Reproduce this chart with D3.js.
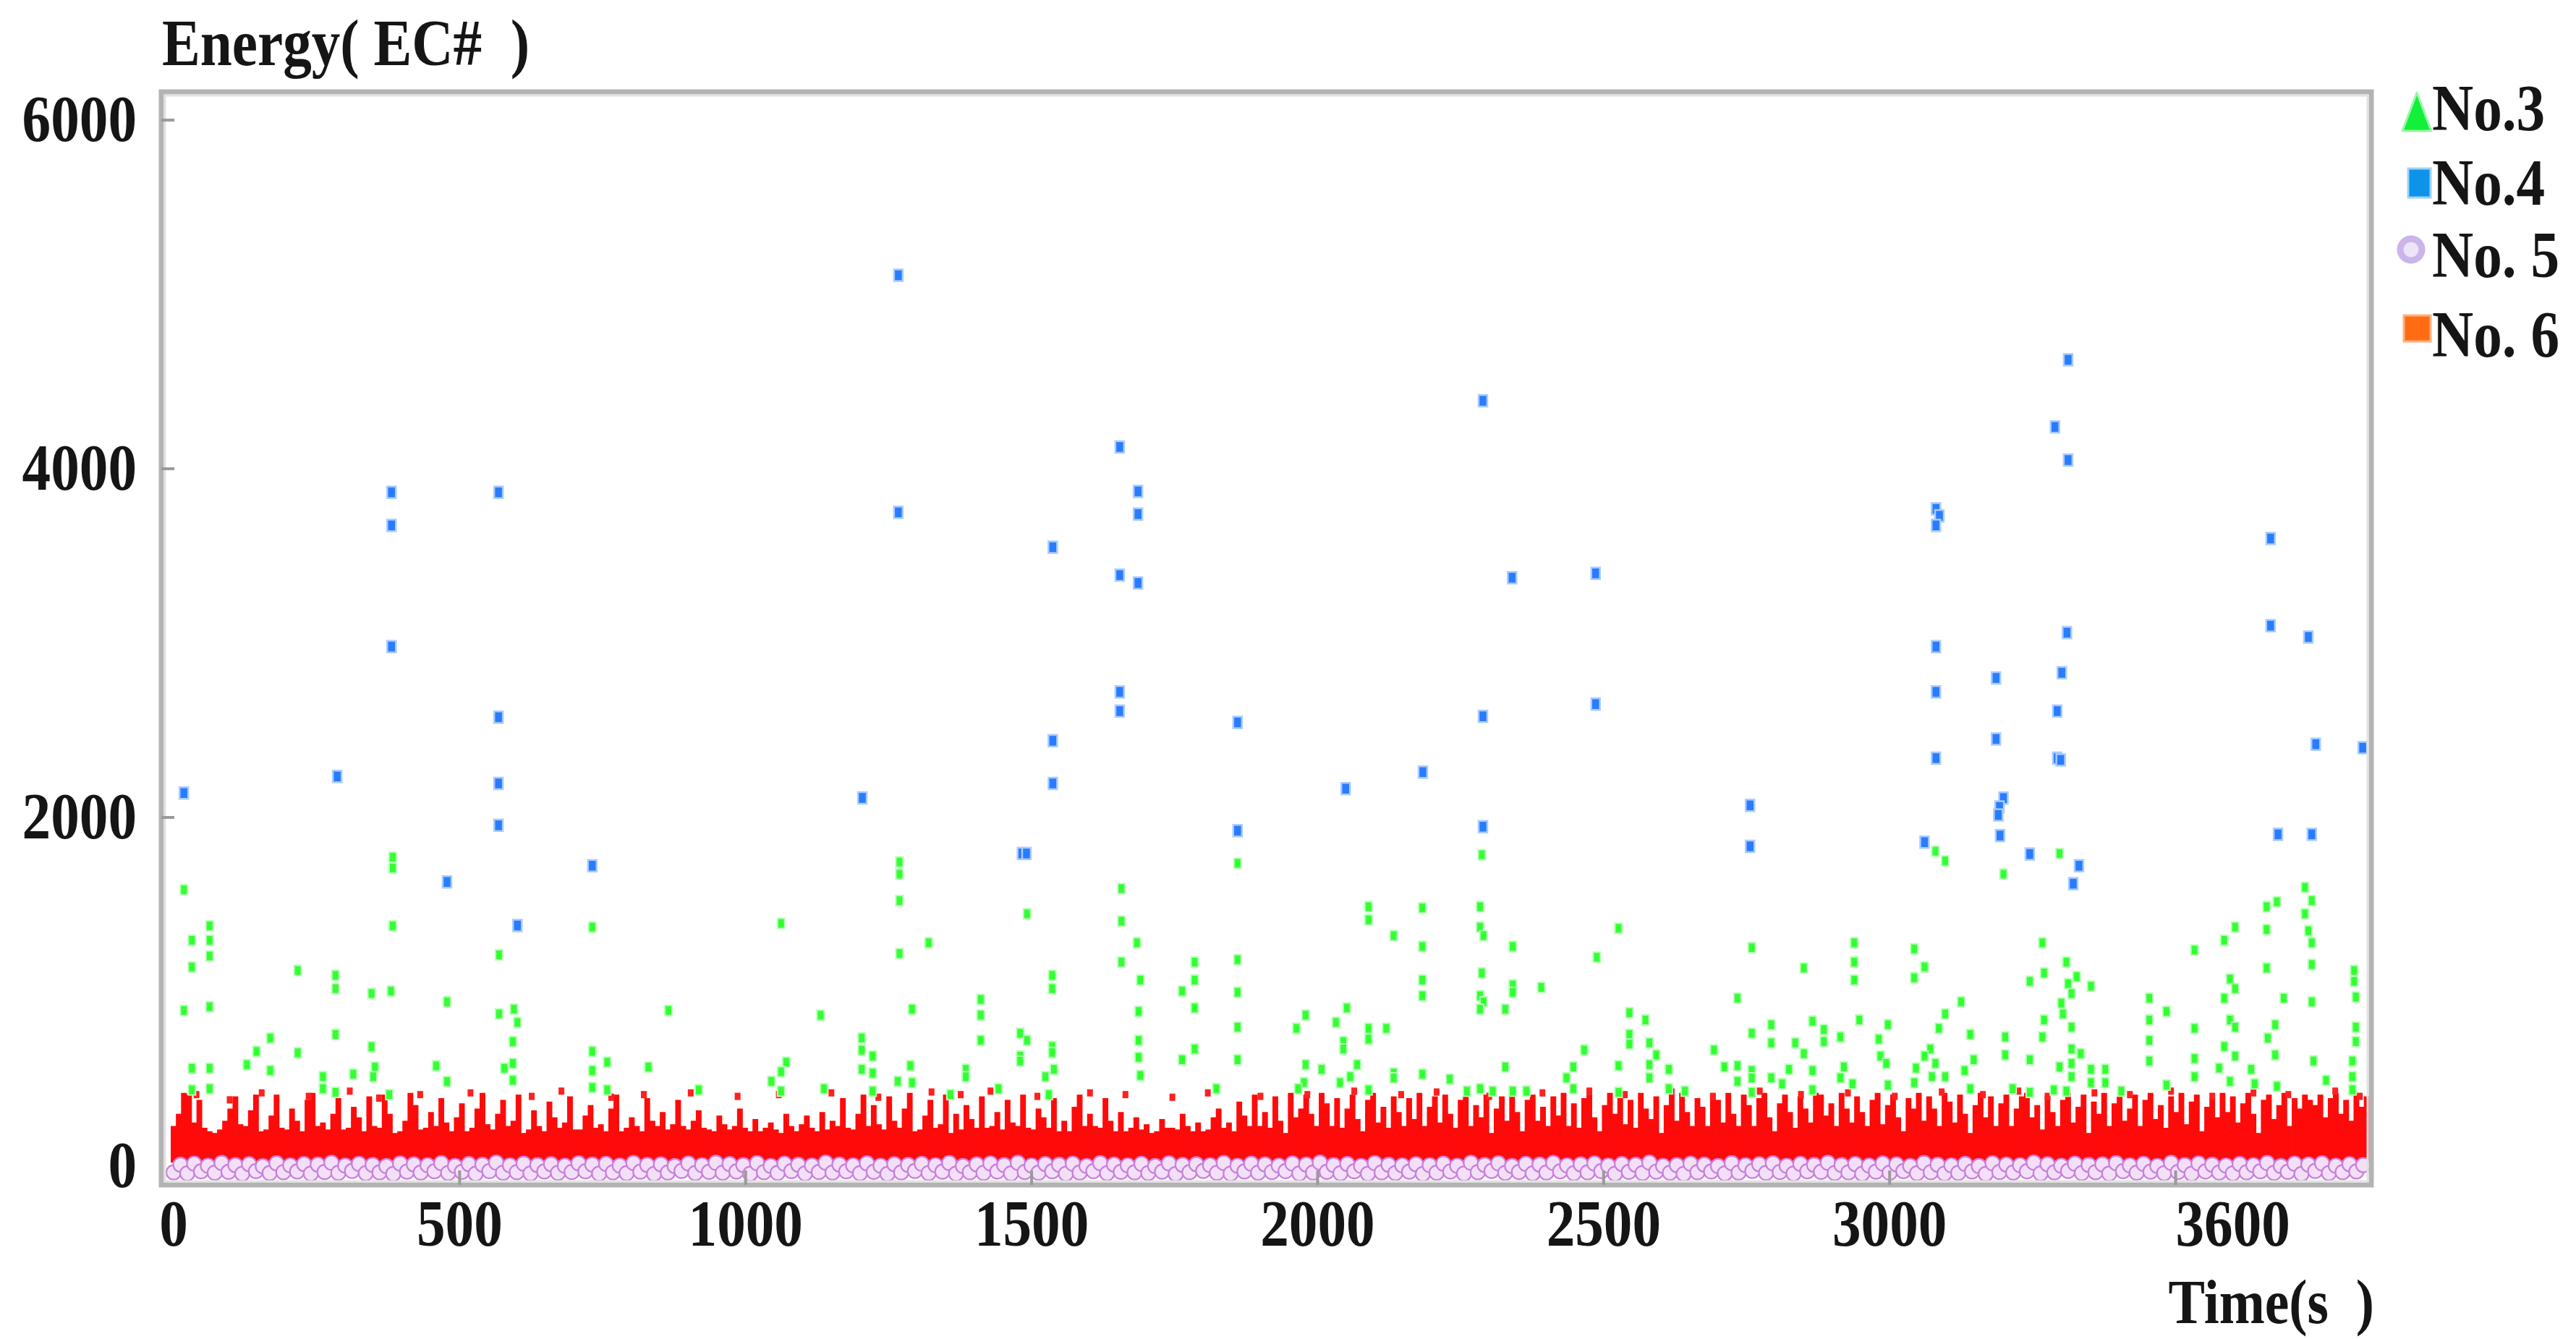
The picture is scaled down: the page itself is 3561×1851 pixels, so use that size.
<!DOCTYPE html>
<html><head><meta charset="utf-8">
<script src="https://cdn.jsdelivr.net/npm/d3@7"></script>
<style>
html,body{margin:0;padding:0;background:#fff;}
svg{display:block;}
text{font-family:"Liberation Serif","Times New Roman",serif;font-weight:bold;fill:#151515;white-space:pre;}
</style></head><body>
<svg id="chart" width="3561" height="1851"></svg>
<script>
// ---------- data ----------
const timeTickLabels = [0, 500, 1000, 1500, 2000, 2500, 3000, 3600];
const timeTickMarks = [500, 1000, 1500, 2000, 2500, 3000, 3500];
const energyTickLabels = [0, 2000, 4000, 6000];
const seriesNames = ["No.3", "No.4", "No. 5", "No. 6"];

// No.4 (blue) : [time s, energy]
const no4Points = [[18,2140],[286,2235],[381,3865],[381,3675],[381,2980],[478,1630],[568,3865],[568,2575],[568,2195],[568,1955],[601,1380],[732,1723],[1204,2112],[1267,5110],[1267,3750],[1483,1793],[1491,1793],[1537,3550],[1537,2440],[1537,2195],[1654,4125],[1654,3390],[1654,2720],[1654,2610],[1686,3870],[1686,3740],[1686,3345],[1860,2545],[1860,1924],[2049,2165],[2184,2260],[2289,4390],[2289,2580],[2289,1947],[2340,3375],[2486,3400],[2486,2650],[2756,2069],[2756,1834],[3061,1858],[3081,3770],[3087,3730],[3081,3675],[3081,2980],[3081,2720],[3081,2340],[3186,2800],[3186,2450],[3199,2111],[3192,2060],[3190,2014],[3193,1896],[3245,1790],[3289,4240],[3312,4625],[3312,4050],[3310,3060],[3301,2830],[3293,2610],[3293,2340],[3299,2330],[3331,1723],[3321,1620],[3666,3600],[3666,3100],[3679,1903],[3732,3035],[3745,2420],[3738,1903],[3827,2400]];

// No.3 (green) : [time s, energy]
const no3Points = [[18,1585],[63,1378],[32,1295],[63,1295],[63,1205],[32,1142],[18,893],[63,914],[32,561],[63,561],[63,444],[32,437],[169,734],[145,658],[128,582],[169,548],[217,1122],[217,650],[283,1094],[283,1018],[283,755],[261,513],[261,444],[283,423],[314,527],[346,990],[346,685],[352,568],[349,513],[380,1004],[383,1772],[383,1710],[383,1378],[377,410],[459,575],[478,942],[478,485],[569,1212],[569,873],[595,900],[601,824],[593,714],[593,589],[578,561],[593,492],[732,1371],[732,658],[758,596],[732,548],[732,451],[758,437],[830,568],[865,893],[918,437],
[1062,1392],[1071,596],[1062,541],[1045,486],[1062,430],[1131,866],[1137,444],[1203,735],[1203,665],[1222,631],[1203,555],[1222,534],[1222,430],[1269,1744],[1269,1675],[1269,1523],[1269,1219],[1291,900],[1288,576],[1266,486],[1291,479],[1320,1281],[1358,410],[1385,555],[1385,513],[1411,956],[1411,866],[1411,721],[1442,444],[1480,762],[1492,721],[1480,631],[1480,603],[1492,1447],[1536,1094],[1536,1018],[1536,686],[1536,652],[1539,555],[1524,513],[1530,410],[1657,1592],[1657,1405],[1657,1170],[1684,1281],[1690,1067],[1687,887],[1687,721],[1687,624],[1690,520],[1763,1004],[1785,1170],[1785,1067],[1785,907],[1785,672],[1763,610],[1823,444],[1860,1737],[1860,1184],[1860,997],[1860,797],[1860,610],
[2287,1786],[2284,1488],[2284,1371],[2290,1322],[2287,1108],[2284,977],[2290,942],[2284,900],[2284,444],[2089,1488],[2089,1412],[2133,1322],[2183,1481],[2183,1260],[2183,1067],[2183,977],[2183,527],[2051,907],[2032,824],[1979,866],[1963,790],[2045,714],[2045,672],[1979,582],[2007,555],[2069,582],[2057,513],[1976,479],[1966,444],[2039,479],[2089,790],[2089,728],[2089,437],[2120,790],[2133,534],[2133,506],[2231,499],[2261,430],[2306,430],[2341,1260],[2341,1039],[2341,997],[2328,900],[2328,569],[2341,430],[2365,430],[2391,1025],[2447,569],[2435,506],[2447,444],[2466,666],[2488,1198],[2526,1364],[2545,880],[2545,755],[2545,700],[2573,838],[2526,576],[2526,423],[2580,707],[2592,638],[2580,582],[2580,506],[2614,555],[2614,444],[2642,430],[2693,666],[2711,569],[2734,963],[2734,576],[2734,486],[2759,1253],[2759,762],[2759,548],[2759,506],[2759,423],[2793,811],[2793,707],[2793,506],[2812,472],[2824,555],[2835,707],[2850,1136],[2850,645],[2865,831],[2865,548],[2885,783],[2885,714],[2865,437],
[3080,1806],[3097,1751],[3199,1675],[3297,1793],[2938,1281],[2938,1170],[2938,1067],[3043,1246],[3061,1143],[3043,1080],[2947,838],[2914,741],[2920,569],[2914,506],[2935,472],[2997,811],[2981,728],[2984,631],[2994,589],[2997,465],[3046,562],[3043,479],[3071,672],[3061,631],[3080,589],[3074,513],[3097,873],[3086,790],[3097,513],[3125,942],[3141,755],[3147,610],[3131,548],[3141,444],[3202,741],[3202,638],[3215,444],[3267,1281],[3270,1108],[3245,1060],[3270,838],[3267,741],[3245,610],[3245,423],[3309,1170],[3327,1087],[3312,1046],[3318,990],[3352,1032],[3300,935],[3303,873],[3318,797],[3318,672],[3334,645],[3318,589],[3297,569],[3318,513],[3287,437],[3309,430],[3352,555],[3352,479],[3377,555],[3377,479],[3405,430],[3454,963],[3454,838],[3454,721],[3454,603],[3484,887],[3484,465],[3533,1239],[3533,790],[3533,617],[3533,513],[3585,1295],[3604,1371],[3595,1073],[3604,1018],[3585,963],[3595,838],[3604,797],[3585,686],[3604,631],[3576,562],[3595,486],[3632,555],[3638,472],[3659,1488],[3677,1516],[3659,1357],[3659,1136],[3674,811],[3661,734],[3674,638],[3677,458],[3726,1599],[3738,1523],[3726,1447],[3732,1350],[3738,1281],[3738,1156],[3738,942],[3741,603],[3763,492],[3689,963],[3812,1122],[3812,1060],[3815,970],[3815,797],[3815,714],[3809,603],[3809,513],[3809,437]];

// No.6 (red) : dense readings, one upper reading per 9 s sample
const no6Step = 9;
const no6Energy = [
230,300,420,410,250,380,220,200,190,210,260,330,400,240,230,320,410,200,210,290,
410,220,210,330,260,200,380,420,230,250,210,300,390,210,220,340,280,200,400,230,
220,410,300,190,200,260,420,350,210,220,310,230,390,250,200,280,360,200,220,330,
420,240,210,300,380,230,260,410,190,210,320,230,200,370,280,220,250,400,210,210,
290,350,220,240,200,330,410,200,220,280,230,200,390,260,230,310,210,240,380,230,
210,260,320,220,210,200,290,240,210,230,330,220,200,270,200,220,250,210,190,300,
230,200,240,290,220,200,310,210,260,230,390,220,210,300,410,230,350,240,210,400,
260,220,330,420,200,210,290,380,220,240,410,190,300,210,350,270,220,400,220,230,
310,210,380,250,230,410,220,210,330,280,220,390,200,260,200,340,410,230,300,230,
220,390,260,200,310,200,220,280,210,240,190,200,270,220,220,210,300,230,200,250,
200,210,280,330,220,250,200,370,290,230,410,230,310,220,400,260,190,420,280,330,
410,300,230,420,360,230,390,220,330,410,270,200,380,420,250,340,220,400,310,230,
390,270,420,230,340,400,250,410,300,220,380,420,230,350,280,410,190,330,400,260,
420,310,200,380,410,260,340,230,400,290,420,230,360,220,390,410,280,200,350,420,
300,410,240,380,220,420,330,270,400,190,350,410,260,420,310,230,390,340,230,410,
380,250,420,300,230,410,350,230,390,420,280,200,360,410,310,220,400,330,250,420,
410,290,360,230,420,330,250,400,310,230,380,420,240,350,410,280,200,390,330,420,
260,400,330,230,420,370,250,410,300,190,350,420,280,400,230,360,410,230,330,400,
420,280,350,210,400,310,230,380,420,250,340,410,190,370,300,420,230,360,400,260,
330,410,230,380,420,270,350,220,400,310,420,240,370,410,200,340,390,280,420,310,
400,250,360,420,300,190,380,410,270,350,420,230,390,330,410,380,350,410,280,390,
420,300,380,260,410,340,400];
// No.6 isolated upper readings [time s, energy]
const no6Points = [[40,410],[98,380],[154,420],[236,400],[308,430],[359,390],[431,410],[519,420],[626,400],[678,430],[765,395],[822,410],[904,420],[986,400],[1058,410],[1150,420],[1232,395],[1325,425],[1376,410],[1428,430],[1510,400],[1602,420],[1664,410],[1746,395],[1808,420],[1900,400],[1982,410],[2064,430],[2146,410],[2208,425],[2300,400],[2393,420],[2475,430],[2537,410],[2619,425],[2691,400],[2773,430],[2845,410],[2927,420],[3009,400],[3091,425],[3163,410],[3225,430],[3276,400],[3358,420],[3420,410],[3492,430],[3564,400],[3636,420],[3697,410],[3779,430],[3822,400]];

// No.5 (purple) : one reading per 12 s sample
const no5Step = 12;
const no5Energy = [
-36,8,-42,14,-30,2,-38,18,-33,6,-44,11,-29,-1,-40,16,-35,4,-31,12,
-43,9,-34,19,-39,3,-28,13,-41,7,-36,0,-45,15,-32,10,-37,5,-30,17,
-40,1,-33,12,-44,8,-29,20,-38,4,-35,14,-42,6,-31,11,-39,2,-34,16,
-30,9,-43,13,-36,3,-41,18,-32,7,-45,10,-37,0,-28,15,-40,5,-33,19,
-38,12,-31,6,-44,17,-35,1,-39,14,-29,8,-42,3,-34,20,-37,9,-30,4,
-41,16,-33,2,-45,11,-36,7,-28,13,-40,5,-32,18,-43,0,-35,10,-39,15,
-31,6,-42,19,-34,3,-38,12,-30,8,-44,14,-37,1,-29,17,-41,9,-33,4,
-36,13,-40,0,-32,16,-45,7,-35,11,-28,5,-39,18,-43,2,-31,14,-38,10,
-34,3,-29,15,-42,9,-37,20,-33,6,-41,12,-30,1,-44,17,-36,8,-40,4,
-32,11,-45,5,-38,14,-31,2,-43,19,-35,7,-28,16,-39,0,-34,13,-42,9,
-37,18,-30,4,-41,10,-36,15,-29,3,-44,12,-33,8,-40,20,-32,1,-38,6,
-45,14,-35,9,-31,0,-42,17,-37,5,-28,11,-39,16,-34,2,-43,13,-30,7,
-33,19,-40,6,-36,12,-44,3,-32,15,-38,10,-29,1,-41,18,-35,8,-43,4,
-39,13,-31,0,-45,16,-34,9,-37,5,-30,20,-42,11,-36,2,-28,14,-40,7,
-35,10,-43,17,-29,4,-38,13,-32,1,-41,19,-34,6,-44,15,-31,8,-37,3,
-42,12,-36,5,-30,18,-39,0,-33,14,-45,9,-28,16,-40,2,-35,11,-31,6];

// ---------- chart ----------
const svg = d3.select("#chart");
const frame = {left: 223, top: 127, right: 3278, bottom: 1638};
const x = d3.scaleLinear().domain([-21.5, 3842]).range([frame.left, frame.right]);
const y = d3.scaleLinear().domain([-108, 6162]).range([frame.bottom, frame.top]);

svg.append("rect").attr("width", 3561).attr("height", 1851).attr("fill", "#fff");

svg.append("defs").append("clipPath").attr("id", "plotClip")
  .append("rect").attr("x", frame.left + 3).attr("y", frame.top + 3)
  .attr("width", frame.right - frame.left - 6).attr("height", frame.bottom - frame.top - 6);

const plot = svg.append("g").attr("clip-path", "url(#plotClip)");

// No.6 dense columns
const colW = x(no6Step) - x(0) + 0.8;
plot.append("g").selectAll("rect").data(no6Energy).join("rect")
  .attr("x", (d, i) => x(i * no6Step) - colW / 2)
  .attr("y", d => y(d))
  .attr("width", colW)
  .attr("height", d => y(20) - y(d))
  .attr("fill", "#ff0a0a");
plot.append("g").selectAll("rect").data(no6Points).join("rect")
  .attr("x", d => x(d[0]) - 4).attr("y", d => y(d[1]) - 5)
  .attr("width", 8).attr("height", 10).attr("fill", "#ff2020");

// No.5 hollow circles
plot.append("g").selectAll("circle").data(no5Energy).join("circle")
  .attr("cx", (d, i) => x(i * no5Step))
  .attr("cy", d => y(d))
  .attr("r", 10)
  .attr("fill", "#f3e0f8")
  .attr("stroke", "#c97fdc")
  .attr("stroke-width", 2.2);

// No.3 green
plot.append("g").selectAll("rect").data(no3Points).join("rect")
  .attr("x", d => x(d[0]) - 5).attr("y", d => y(d[1]) - 7)
  .attr("width", 10).attr("height", 14)
  .attr("fill", "#33ff33").attr("stroke", "#b8ffb8").attr("stroke-width", 2);

// No.4 blue
plot.append("g").selectAll("rect").data(no4Points).join("rect")
  .attr("x", d => x(d[0]) - 6).attr("y", d => y(d[1]) - 8)
  .attr("width", 12).attr("height", 16)
  .attr("fill", "#2a7cff").attr("stroke", "#a9ccff").attr("stroke-width", 2.5);

// frame
svg.append("rect").attr("x", frame.left).attr("y", frame.top)
  .attr("width", frame.right - frame.left).attr("height", frame.bottom - frame.top)
  .attr("fill", "none").attr("stroke", "#b3b3b3").attr("stroke-width", 7);
svg.append("rect").attr("x", frame.left + 5).attr("y", frame.top + 5)
  .attr("width", frame.right - frame.left - 10).attr("height", frame.bottom - frame.top - 10)
  .attr("fill", "none").attr("stroke", "#e2e2e2").attr("stroke-width", 3);

// ticks
svg.append("g").selectAll("line").data(timeTickMarks).join("line")
  .attr("x1", d => x(d)).attr("x2", d => x(d))
  .attr("y1", frame.bottom - 20).attr("y2", frame.bottom)
  .attr("stroke", "#9a9a9a").attr("stroke-width", 4);
svg.append("g").selectAll("line").data(energyTickLabels.filter(v => v > 0)).join("line")
  .attr("x1", frame.left).attr("x2", frame.left + 18)
  .attr("y1", d => y(d)).attr("y2", d => y(d))
  .attr("stroke", "#9a9a9a").attr("stroke-width", 4);

const FS = 90, SX = 0.88;
function label(txt, px, py, anchor, size) {
  svg.append("text")
    .attr("transform", `translate(${px},${py}) scale(${SX},1)`)
    .attr("text-anchor", anchor)
    .attr("font-size", size || FS)
    .text(txt);
}
energyTickLabels.forEach(v => label(String(v), 189, y(v) + 29, "end"));
timeTickLabels.forEach(t => label(String(t), x(t), 1722, "middle"));
label("Energy( EC#  )", 224, 90, "start");
label("Time(s  )", 3282, 1829, "end", 86);

// legend
const legendY = [180, 283, 383, 493];
const lg = svg.append("g");
lg.append("path").attr("d", "M3341,128 L3361,181 L3321,181 Z")
  .attr("fill", "#12f03a").attr("stroke", "#9cf7a8").attr("stroke-width", 3).attr("stroke-linejoin", "round");
lg.append("rect").attr("x", 3329).attr("y", 233).attr("width", 31).attr("height", 40)
  .attr("fill", "#0d93ea").attr("stroke", "#9dd2f6").attr("stroke-width", 3);
lg.append("circle").attr("cx", 3333).attr("cy", 345).attr("r", 15)
  .attr("fill", "#ece4f9").attr("stroke", "#cbb4ea").attr("stroke-width", 9);
lg.append("rect").attr("x", 3323).attr("y", 436).attr("width", 37).attr("height", 36)
  .attr("fill", "#ff6c12").attr("stroke", "#ffb27e").attr("stroke-width", 3);
seriesNames.forEach((n, i) => label(n, 3362, legendY[i], "start"));
</script>
</body></html>
